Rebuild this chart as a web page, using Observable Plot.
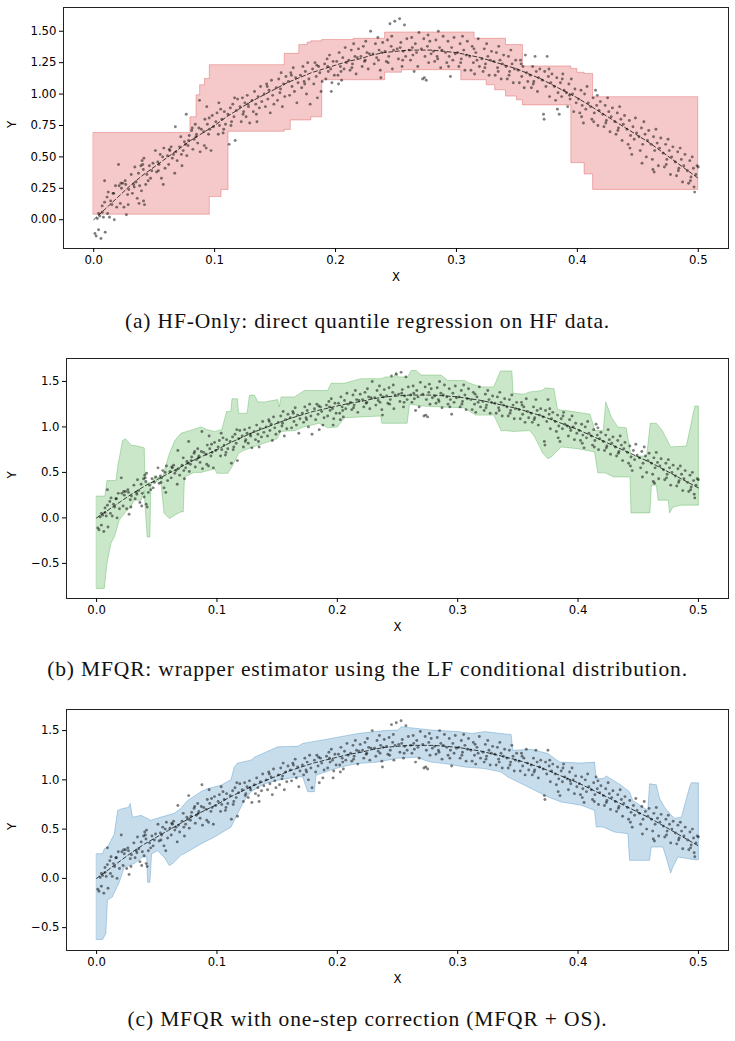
<!DOCTYPE html>
<html>
<head>
<meta charset="utf-8">
<script src="https://cdn.jsdelivr.net/npm/d3@7"></script>
<script src="https://cdn.jsdelivr.net/npm/@observablehq/plot@0.6"></script>
<style>
  body { margin: 0; background: #fff; }
  #page { position: relative; width: 735px; height: 1041px; overflow: hidden; background: #fff; }
  #page svg { position: absolute; left: 0; }
  .cap { position: absolute; left: 0; width: 735px; text-align: center; font-family: "Liberation Serif", "DejaVu Serif", serif; font-size: 21.5px; letter-spacing: 0.85px; color: #111; line-height: 1; }
</style>
</head>
<body>
<div id="page"></div>
<script>
// Axis ticks
const xTicks = [0, 0.1, 0.2, 0.3, 0.4, 0.5];
const yTicksA = [0, 0.25, 0.5, 0.75, 1, 1.25, 1.5];
const yTicksBC = [-0.5, 0, 0.5, 1, 1.5];

// True mean function (dashed)
const trueX = [0,0.01,0.02,0.03,0.04,0.05,0.06,0.07,0.08,0.09,0.1,0.11,0.12,0.13,0.14,0.15,0.16,0.17,0.18,0.19,0.2,0.21,0.22,0.23,0.24,0.25,0.26,0.27,0.28,0.29,0.3,0.31,0.32,0.33,0.34,0.35,0.36,0.37,0.38,0.39,0.4,0.41,0.42,0.43,0.44,0.45,0.46,0.47,0.48,0.49,0.5];
const trueY = [0,0.09,0.18,0.27,0.35,0.42,0.49,0.56,0.63,0.69,0.75,0.82,0.88,0.94,0.99,1.04,1.09,1.13,1.17,1.2,1.23,1.26,1.28,1.31,1.33,1.34,1.35,1.35,1.35,1.34,1.33,1.31,1.29,1.26,1.23,1.2,1.16,1.12,1.07,1.02,0.97,0.91,0.85,0.79,0.73,0.67,0.61,0.54,0.47,0.4,0.33];

// High-fidelity observations [x, y]
const hfPoints = [
[0.001,-0.11],[0.002,-0.13],[0.003,0.01],[0.004,-0.08],[0.005,0.03],[0.006,-0.15],[0.007,0.06],[0.008,0.02],[0.009,0.14],[0.0095,-0.1],[0.004,0.05],[0.007,0.11],[0.009,0.31],
[0.011,0.18],[0.012,0.22],[0.013,0.02],[0.014,0.15],[0.015,0.12],[0.016,0.21],[0.017,0.0],[0.018,0.27],[0.019,0.1],[0.0115,0.05],[0.0165,0.21],[0.0205,0.44],
[0.021,0.27],[0.022,0.13],[0.023,0.25],[0.024,0.29],[0.025,0.1],[0.026,0.31],[0.027,0.04],[0.028,0.2],[0.029,0.24],[0.0225,0.29],[0.0265,0.28],[0.0285,0.12],
[0.031,0.36],[0.032,0.21],[0.033,0.28],[0.034,0.42],[0.035,0.3],[0.036,0.17],[0.037,0.37],[0.038,0.27],[0.039,0.43],[0.0335,0.26],[0.0375,0.13],[0.0395,0.23],
[0.04,0.47],[0.0405,0.44],[0.041,0.4],[0.0412,0.15],[0.0415,0.49],[0.042,0.12],[0.043,0.28],[0.044,0.36],[0.046,0.43],[0.047,0.33],[0.048,0.39],[0.049,0.45],[0.045,0.31],
[0.051,0.55],[0.052,0.38],[0.053,0.46],[0.054,0.44],[0.055,0.52],[0.056,0.33],[0.057,0.5],[0.058,0.57],[0.059,0.41],[0.0535,0.39],[0.0575,0.28],
[0.061,0.51],[0.062,0.44],[0.063,0.55],[0.064,0.58],[0.065,0.49],[0.066,0.52],[0.067,0.37],[0.068,0.54],[0.069,0.47],[0.0675,0.74],[0.0625,0.56],
[0.071,0.58],[0.072,0.66],[0.073,0.43],[0.074,0.55],[0.075,0.62],[0.076,0.6],[0.077,0.51],[0.078,0.59],[0.079,0.67],[0.0725,0.52],[0.0765,0.84],[0.0785,0.63],
[0.081,0.71],[0.082,0.56],[0.083,0.64],[0.084,0.76],[0.085,0.68],[0.086,0.61],[0.087,0.73],[0.088,0.54],[0.089,0.72],[0.0845,0.66],[0.0875,0.95],[0.0815,0.73],
[0.091,0.7],[0.092,0.8],[0.093,0.57],[0.094,0.76],[0.095,0.68],[0.096,0.72],[0.097,0.55],[0.098,0.83],[0.099,0.74],[0.0915,0.59],[0.0955,0.81],[0.0935,0.9],
[0.101,0.78],[0.102,0.85],[0.103,0.68],[0.104,0.75],[0.105,0.88],[0.106,0.8],[0.107,0.69],[0.108,0.86],[0.109,0.76],[0.1035,0.93],[0.1075,0.72],
[0.111,0.84],[0.112,0.6],[0.113,0.89],[0.114,0.78],[0.115,0.92],[0.116,0.82],[0.117,0.63],[0.118,0.87],[0.119,0.96],[0.1135,0.75],[0.1165,0.97],
[0.121,0.9],[0.122,0.78],[0.123,0.97],[0.124,0.86],[0.125,0.93],[0.126,0.82],[0.127,0.99],[0.128,0.9],[0.129,0.77],[0.1235,0.84],[0.1275,0.92],
[0.131,0.95],[0.132,0.86],[0.133,1.02],[0.134,0.92],[0.135,0.78],[0.136,0.98],[0.137,0.89],[0.138,1.06],[0.139,0.94],[0.1345,0.84],
[0.141,1.0],[0.142,0.9],[0.143,1.08],[0.144,0.96],[0.145,1.03],[0.146,0.85],[0.147,1.11],[0.148,0.99],[0.149,0.92],[0.1435,1.06],
[0.151,1.05],[0.152,0.95],[0.153,1.12],[0.154,1.01],[0.155,1.17],[0.156,0.9],[0.157,1.08],[0.158,0.98],[0.159,1.14],[0.1545,1.04],
[0.161,1.1],[0.162,0.99],[0.163,1.17],[0.164,1.06],[0.165,1.21],[0.166,1.02],[0.167,1.13],[0.168,0.93],[0.169,1.09],[0.1635,1.15],
[0.171,1.15],[0.172,1.05],[0.173,1.22],[0.174,1.1],[0.175,1.18],[0.176,1.0],[0.177,1.25],[0.178,1.12],[0.179,0.92],[0.1745,1.08],
[0.181,1.2],[0.182,1.08],[0.183,1.25],[0.184,1.14],[0.185,0.97],[0.186,1.22],[0.187,1.17],[0.188,1.02],[0.189,1.1],[0.1845,1.23],
[0.191,1.24],[0.192,1.12],[0.193,1.28],[0.194,1.18],[0.195,1.31],[0.196,1.2],[0.197,1.09],[0.198,1.26],[0.199,1.15],[0.1935,1.22],[0.1965,1.02],
[0.201,1.26],[0.202,1.15],[0.203,1.33],[0.204,1.22],[0.205,1.11],[0.206,1.29],[0.207,1.2],[0.208,1.37],[0.209,1.25],[0.2045,1.18],[0.2025,1.08],
[0.211,1.27],[0.212,1.19],[0.213,1.35],[0.214,1.24],[0.215,1.4],[0.216,1.3],[0.217,1.16],[0.218,1.29],[0.219,1.36],[0.2135,1.21],
[0.221,1.3],[0.222,1.22],[0.223,1.38],[0.224,1.26],[0.225,1.42],[0.226,1.33],[0.227,1.2],[0.228,1.32],[0.229,1.5],[0.2245,1.27],
[0.231,1.32],[0.232,1.24],[0.233,1.4],[0.234,1.29],[0.235,1.45],[0.236,1.35],[0.237,1.19],[0.238,1.33],[0.239,1.41],[0.2355,1.27],[0.2375,1.13],
[0.241,1.34],[0.242,1.26],[0.243,1.43],[0.244,1.3],[0.245,1.56],[0.246,1.38],[0.247,1.2],[0.248,1.35],[0.249,1.58],[0.2435,1.25],[0.2465,1.46],
[0.251,1.36],[0.252,1.28],[0.253,1.6],[0.254,1.41],[0.255,1.22],[0.256,1.34],[0.257,1.55],[0.258,1.3],[0.259,1.44],[0.2535,1.37],[0.2555,1.27],
[0.261,1.35],[0.262,1.27],[0.263,1.45],[0.264,1.31],[0.265,1.18],[0.266,1.4],[0.267,1.33],[0.268,1.22],[0.269,1.49],[0.2635,1.37],
[0.271,1.36],[0.272,1.12],[0.273,1.44],[0.274,1.3],[0.275,1.11],[0.276,1.38],[0.277,1.25],[0.278,1.42],[0.279,1.32],[0.2735,1.13],[0.2765,1.47],
[0.281,1.34],[0.282,1.26],[0.283,1.43],[0.284,1.3],[0.285,1.5],[0.286,1.37],[0.287,1.21],[0.288,1.35],[0.289,1.46],[0.2845,1.28],
[0.291,1.33],[0.292,1.25],[0.293,1.42],[0.294,1.3],[0.295,1.14],[0.296,1.37],[0.297,1.27],[0.298,1.45],[0.299,1.32],[0.2935,1.22],
[0.301,1.33],[0.302,1.22],[0.303,1.4],[0.304,1.28],[0.305,1.46],[0.306,1.35],[0.307,1.19],[0.308,1.31],[0.309,1.42],[0.3035,1.25],
[0.311,1.3],[0.312,1.19],[0.313,1.38],[0.314,1.25],[0.315,1.16],[0.316,1.33],[0.317,1.27],[0.318,1.44],[0.319,1.22],[0.3145,1.36],
[0.321,1.28],[0.322,1.18],[0.323,1.36],[0.324,1.24],[0.325,1.4],[0.326,1.3],[0.327,1.15],[0.328,1.27],[0.329,1.34],[0.3235,1.21],
[0.331,1.26],[0.332,1.15],[0.333,1.33],[0.334,1.21],[0.335,1.38],[0.336,1.27],[0.337,1.12],[0.338,1.24],[0.339,1.31],[0.3345,1.18],
[0.341,1.22],[0.342,1.12],[0.343,1.3],[0.344,1.18],[0.345,1.35],[0.346,1.24],[0.347,1.09],[0.348,1.2],[0.349,1.27],[0.3435,1.15],
[0.351,1.19],[0.352,1.09],[0.353,1.27],[0.354,1.14],[0.355,1.22],[0.356,1.05],[0.357,1.31],[0.358,1.17],[0.359,1.1],[0.3535,1.24],
[0.361,1.15],[0.362,1.05],[0.363,1.22],[0.364,1.1],[0.365,1.3],[0.366,1.18],[0.367,1.02],[0.368,1.13],[0.369,1.2],[0.3635,1.08],
[0.371,1.11],[0.372,0.84],[0.373,1.18],[0.374,1.06],[0.375,1.3],[0.376,1.14],[0.377,0.98],[0.378,1.09],[0.379,1.16],[0.3725,0.8],[0.3765,1.2],
[0.381,1.06],[0.382,0.95],[0.383,1.13],[0.384,1.01],[0.385,0.84],[0.386,1.09],[0.387,0.98],[0.388,1.16],[0.389,1.03],[0.3835,0.88],[0.3875,1.12],
[0.391,1.01],[0.392,0.9],[0.393,1.08],[0.394,0.96],[0.395,1.12],[0.396,1.0],[0.397,0.86],[0.398,1.04],[0.399,0.93],[0.3935,0.99],
[0.401,0.96],[0.402,0.85],[0.403,1.03],[0.404,0.91],[0.405,0.77],[0.406,1.0],[0.407,0.88],[0.408,1.06],[0.409,0.93],[0.4035,0.82],
[0.411,0.9],[0.412,0.8],[0.413,0.97],[0.414,0.85],[0.415,1.03],[0.416,0.91],[0.417,0.75],[0.418,0.87],[0.419,0.94],[0.4135,0.78],[0.4165,0.99],
[0.421,0.84],[0.422,0.74],[0.423,0.91],[0.424,0.79],[0.425,0.97],[0.426,0.86],[0.427,0.7],[0.428,0.82],[0.429,0.89],[0.4235,0.77],
[0.431,0.78],[0.432,0.68],[0.433,0.85],[0.434,0.73],[0.435,0.9],[0.436,0.8],[0.437,0.63],[0.438,0.76],[0.439,0.83],[0.4335,0.71],
[0.441,0.72],[0.442,0.6],[0.443,0.79],[0.444,0.67],[0.445,0.52],[0.446,0.74],[0.447,0.64],[0.448,0.81],[0.449,0.69],[0.4435,0.57],
[0.451,0.66],[0.452,0.55],[0.453,0.73],[0.454,0.6],[0.455,0.78],[0.456,0.68],[0.457,0.5],[0.458,0.63],[0.459,0.71],[0.4535,0.45],
[0.461,0.6],[0.462,0.48],[0.463,0.66],[0.464,0.55],[0.465,0.72],[0.466,0.61],[0.467,0.43],[0.468,0.57],[0.469,0.65],[0.4635,0.38],[0.4625,0.4],
[0.471,0.53],[0.472,0.42],[0.473,0.6],[0.474,0.48],[0.475,0.64],[0.476,0.55],[0.477,0.36],[0.478,0.5],[0.479,0.58],[0.4735,0.44],
[0.481,0.46],[0.482,0.35],[0.483,0.54],[0.484,0.41],[0.485,0.57],[0.486,0.48],[0.487,0.3],[0.488,0.43],[0.489,0.52],[0.4835,0.39],
[0.491,0.39],[0.492,0.29],[0.493,0.47],[0.494,0.34],[0.495,0.5],[0.496,0.41],[0.497,0.22],[0.498,0.36],[0.499,0.43],[0.4935,0.31],[0.4965,0.26],[0.5,0.42]
];

// (a) HF-only quantile band, piecewise constant: [x, lower, upper]
const bandA = [
[0,0.04,0.69],[0.08,0.04,0.815],[0.085,0.04,0.99],[0.088,0.04,1.07],[0.092,0.04,1.12],[0.096,0.18,1.23],
[0.1057,0.237,1.23],[0.1115,0.70,1.23],[0.158,0.715,1.32],[0.163,0.79,1.32],[0.17,0.79,1.39],[0.177,0.79,1.41],
[0.18,0.815,1.42],[0.189,1.11,1.43],[0.215,1.11,1.44],[0.241,1.17,1.49],[0.255,1.19,1.49],[0.304,1.11,1.49],
[0.315,1.11,1.44],[0.325,1.07,1.44],[0.332,1.03,1.44],[0.341,0.98,1.39],[0.35,0.95,1.39],[0.355,0.91,1.22],
[0.395,0.45,1.2],[0.4,0.45,1.17],[0.406,0.36,1.16],[0.413,0.237,0.975],[0.5,0.237,0.975]
];

// (b) MFQR band edges [x, y]
const upperB = [
[0,0.24],[0.0069,0.24],[0.0086,0.41],[0.016,0.41],[0.018,0.6],[0.0216,0.85],[0.024,0.87],[0.0285,0.8],[0.034,0.79],[0.0396,0.77],
[0.0402,0.38],[0.0506,0.4],[0.055,0.46],[0.0603,0.7],[0.065,0.85],[0.07,0.93],[0.08,0.97],[0.087,1.0],[0.092,0.97],[0.098,0.95],
[0.104,0.97],[0.108,1.17],[0.1115,1.17],[0.1125,1.31],[0.117,1.31],[0.118,1.15],[0.125,1.15],[0.127,1.35],[0.1311,1.35],[0.134,1.275],
[0.1394,1.275],[0.1504,1.3],[0.1518,1.22],[0.1533,1.33],[0.1643,1.33],[0.1726,1.4],[0.192,1.4],[0.1948,1.48],[0.2058,1.48],[0.2197,1.53],
[0.2363,1.53],[0.24,1.55],[0.247,1.55],[0.2488,1.605],[0.2502,1.55],[0.2585,1.55],[0.2613,1.62],[0.2654,1.62],[0.2696,1.57],[0.2862,1.57],
[0.2918,1.51],[0.3055,1.51],[0.31,1.48],[0.3195,1.44],[0.33,1.44],[0.3355,1.615],[0.345,1.615],[0.346,1.37],[0.355,1.36],[0.36,1.385],
[0.37,1.4],[0.373,1.43],[0.38,1.42],[0.383,1.19],[0.39,1.18],[0.4,1.16],[0.41,1.14],[0.414,0.96],[0.421,0.96],[0.423,1.275],
[0.428,1.1],[0.433,1.0],[0.44,0.99],[0.4441,0.68],[0.457,0.68],[0.46,1.04],[0.465,1.04],[0.47,0.96],[0.477,0.78],[0.49,0.79],
[0.497,1.23],[0.5,1.23]
];
const lowerB = [
[0,-0.776],[0.0064,-0.776],[0.0086,-0.5],[0.0119,-0.28],[0.015,-0.2],[0.0188,-0.025],[0.024,0.066],[0.0285,0.12],[0.031,0.195],[0.037,0.195],
[0.0395,0.3],[0.042,-0.21],[0.0443,-0.21],[0.045,0.34],[0.048,0.45],[0.053,0.45],[0.056,0.055],[0.0604,-0.007],[0.065,0.03],[0.07,0.066],
[0.072,0.066],[0.073,0.45],[0.081,0.5],[0.087,0.5],[0.098,0.54],[0.1,0.49],[0.109,0.49],[0.112,0.55],[0.118,0.71],[0.122,0.74],
[0.13,0.78],[0.139,0.82],[0.15,0.87],[0.153,0.95],[0.165,0.96],[0.172,1.0],[0.185,1.04],[0.192,0.99],[0.2,1.0],[0.206,1.1],
[0.22,1.11],[0.236,1.12],[0.237,1.04],[0.258,1.04],[0.26,1.25],[0.27,1.23],[0.285,1.22],[0.305,1.21],[0.315,1.13],[0.33,1.13],
[0.336,0.96],[0.34,0.96],[0.346,0.95],[0.36,0.96],[0.364,0.89],[0.3707,0.71],[0.375,0.65],[0.3777,0.67],[0.386,0.78],[0.4,0.76],
[0.4137,0.725],[0.4164,0.495],[0.4225,0.495],[0.4296,0.45],[0.4432,0.45],[0.444,0.055],[0.4597,0.055],[0.461,0.36],[0.465,0.36],[0.4666,0.195],
[0.475,0.195],[0.476,0.055],[0.479,0.12],[0.486,0.14],[0.5,0.14]
];

// (c) MFQR + OS band edges [x, y]
const upperC = [
[0,0.25],[0.005,0.25],[0.0064,0.3],[0.0092,0.32],[0.0147,0.45],[0.0175,0.69],[0.0216,0.71],[0.0265,0.72],[0.0279,0.76],[0.0299,0.62],
[0.0369,0.64],[0.045,0.59],[0.053,0.62],[0.0645,0.66],[0.07,0.71],[0.0756,0.79],[0.0867,0.88],[0.092,0.91],[0.1033,0.945],[0.1116,1.0],
[0.1144,1.13],[0.1172,1.17],[0.1283,1.2],[0.1311,1.23],[0.1505,1.335],[0.1671,1.34],[0.1712,1.37],[0.1948,1.42],[0.2169,1.47],[0.2391,1.5],
[0.2502,1.505],[0.253,1.54],[0.26,1.53],[0.2779,1.505],[0.3001,1.49],[0.312,1.47],[0.3222,1.49],[0.336,1.47],[0.3444,1.46],[0.3458,1.3],
[0.361,1.31],[0.375,1.267],[0.3846,1.18],[0.4026,1.17],[0.4137,1.18],[0.4151,1.013],[0.421,1.013],[0.4234,1.04],[0.4358,0.945],[0.4427,0.88],
[0.4455,0.79],[0.458,0.69],[0.4594,0.96],[0.465,0.95],[0.4678,0.81],[0.472,0.72],[0.4775,0.64],[0.4802,0.61],[0.4858,0.62],[0.4927,0.93],
[0.4941,0.97],[0.5,0.97]
];
const lowerC = [
[0,-0.62],[0.005,-0.62],[0.0077,-0.56],[0.009,-0.22],[0.013,-0.19],[0.0188,-0.04],[0.023,0.115],[0.0313,0.15],[0.0382,0.217],[0.0416,0.217],
[0.0424,-0.04],[0.0443,-0.04],[0.0457,0.25],[0.0506,0.28],[0.056,0.217],[0.0604,0.13],[0.0632,0.15],[0.07,0.235],[0.0756,0.27],[0.0867,0.35],
[0.098,0.42],[0.1116,0.52],[0.1227,0.79],[0.1283,0.88],[0.1394,0.96],[0.1505,0.997],[0.1671,1.03],[0.1712,1.03],[0.1754,0.88],[0.1809,0.88],
[0.1823,1.047],[0.1948,1.1],[0.2031,1.13],[0.2169,1.166],[0.2336,1.18],[0.2502,1.22],[0.2668,1.23],[0.2724,1.2],[0.2779,1.18],[0.289,1.166],
[0.3057,1.13],[0.3222,1.115],[0.336,1.08],[0.3416,1.03],[0.3527,0.962],[0.375,0.827],[0.386,0.776],[0.4026,0.742],[0.4137,0.691],[0.4151,0.522],
[0.4206,0.522],[0.4303,0.47],[0.4414,0.454],[0.4428,0.183],[0.4594,0.183],[0.4608,0.318],[0.4705,0.318],[0.4747,0.149],[0.4769,0.054],[0.4788,0.115],
[0.483,0.217],[0.4968,0.19],[0.5,0.19]
];

const captions = [
  "(a) HF-Only: direct quantile regression on HF data.",
  "(b) MFQR: wrapper estimator using the LF conditional distribution.",
  "(c) MFQR with one-step correction (MFQR + OS)."
];

const colors = { red: "#d62728", green: "#2ca02c", blue: "#1f77b4" };

const trueCurve = trueX.map((x, i) => ({ x, y: trueY[i] }));
const bandRows = bandA.map(([x, lo, hi]) => ({ x, lo, hi }));
const polygon = (upper, lower) => upper.concat(lower.slice().reverse()).map(([x, y]) => ({ x, y }));

function panel({ top, mt, mb, ml, yDomain, yTicks, yFmt, band, yLabelDx }) {
  const svg = Plot.plot({
    width: 735,
    height: 300,
    marginTop: mt,
    marginBottom: mb,
    marginLeft: ml,
    marginRight: 7,
    style: { fontFamily: "DejaVu Sans", fontSize: "11.7px", color: "#000", background: "transparent" },
    x: { domain: [-0.025, 0.525] },
    y: { domain: yDomain },
    marks: [
      ...band,
      Plot.dot(hfPoints, { x: d => d[0], y: d => d[1], r: 1.45, fill: "#000", fillOpacity: 0.5, stroke: "none" }),
      Plot.line(trueCurve, { x: "x", y: "y", stroke: "#000", strokeOpacity: 0.75, strokeWidth: 1, strokeDasharray: "4,2.5" }),
      Plot.frame({ stroke: "#222", strokeWidth: 1 }),
      Plot.axisX({ ticks: xTicks, tickFormat: d3.format(".1f"), tickSize: 4, tickPadding: 3, label: null }),
      Plot.axisY({ ticks: yTicks, tickFormat: d3.format(yFmt), tickSize: 4, tickPadding: 3, label: null }),
      Plot.text(["X"], { frameAnchor: "bottom", dy: 32 }),
      Plot.text(["Y"], { frameAnchor: "left", dx: yLabelDx, rotate: -90 })
    ]
  });
  svg.style.top = top + "px";
  return svg;
}

const page = document.getElementById("page");

page.appendChild(panel({
  top: 0, mt: 7, mb: 52, ml: 63,
  yDomain: [-0.229, 1.689], yTicks: yTicksA, yFmt: ".2f", yLabelDx: -51,
  band: [Plot.areaY(bandRows, { x: "x", y1: "lo", y2: "hi", curve: "step-after", fill: colors.red, fillOpacity: 0.25, stroke: colors.red, strokeOpacity: 0.3 })]
}));
page.appendChild(panel({
  top: 350, mt: 8, mb: 52, ml: 66,
  yDomain: [-0.886, 1.752], yTicks: yTicksBC, yFmt: ".1f", yLabelDx: -54,
  band: [Plot.line(polygon(upperB, lowerB), { x: "x", y: "y", curve: "linear-closed", fill: colors.green, fillOpacity: 0.25, stroke: colors.green, strokeOpacity: 0.3, strokeWidth: 1 })]
}));
page.appendChild(panel({
  top: 701, mt: 8, mb: 51, ml: 66,
  yDomain: [-0.732, 1.714], yTicks: yTicksBC, yFmt: ".1f", yLabelDx: -54,
  band: [Plot.line(polygon(upperC, lowerC), { x: "x", y: "y", curve: "linear-closed", fill: colors.blue, fillOpacity: 0.25, stroke: colors.blue, strokeOpacity: 0.3, strokeWidth: 1 })]
}));

[311, 659, 1009].forEach((y, i) => {
  const div = document.createElement("div");
  div.className = "cap";
  div.style.top = y + "px";
  div.textContent = captions[i];
  page.appendChild(div);
});
</script>
</body>
</html>
